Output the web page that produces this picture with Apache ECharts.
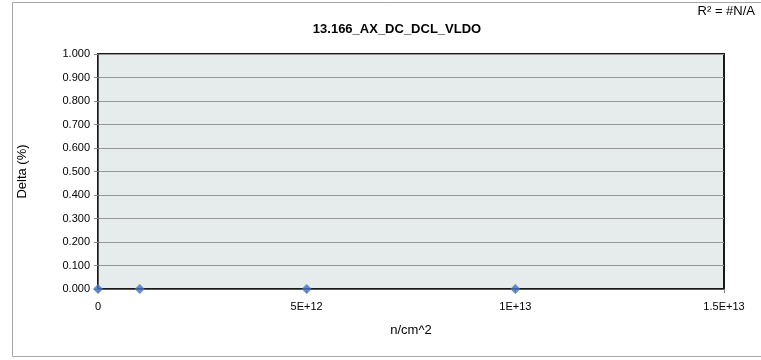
<!DOCTYPE html>
<html>
<head>
<meta charset="utf-8">
<script src="https://cdn.jsdelivr.net/npm/echarts@6/dist/echarts.min.js"></script>
<style>html,body{margin:0;padding:0;background:#fff}#c{width:761px;height:360px}</style>
</head>
<body>
<div id="c"></div>
<script>
const titleText = "13.166_AX_DC_DCL_VLDO";
const r2Text = "R\u00b2 = #N/A";
const xValues = [0, 1e12, 5e12, 1e13];
const yValues = [0, 0, 0, 0];
const xTickLabels = {0: "0", 5e12: "5E+12", 1e13: "1E+13", 1.5e13: "1.5E+13"};
const xName = "n/cm^2";
const yName = "Delta (%)";

const font = "'Liberation Sans', sans-serif";
const chart = echarts.init(document.getElementById('c'), null, {renderer: 'canvas'});
chart.setOption({
  animation: false,
  backgroundColor: '#ffffff',
  graphic: [
    {type: 'rect', shape: {x: 12.5, y: 2.5, width: 760, height: 354}, style: {fill: 'none', stroke: '#a6a6a6', lineWidth: 1}, silent: true},
    {type: 'text', right: 6, top: 5, style: {text: r2Text, font: "13px " + font, fill: '#000'}}
  ],
  title: {
    text: titleText, left: 392, top: 18, textAlign: 'center',
    textStyle: {fontFamily: font, fontSize: 13, fontWeight: 'bold', color: '#000'}
  },
  grid: {
    left: 98, right: 37, top: 54, bottom: 71, show: true,
    backgroundColor: '#e6ecec', borderColor: '#1a1a1a', borderWidth: 2
  },
  xAxis: {
    type: 'value', min: 0, max: 1.5e13, interval: 5e12,
    name: xName, nameLocation: 'middle', nameGap: 35,
    nameTextStyle: {fontFamily: font, fontSize: 13, color: '#000'},
    axisLine: {show: true, lineStyle: {color: '#595959', width: 1}},
    axisTick: {show: true, length: 4, lineStyle: {color: '#8c8c8c'}},
    splitLine: {show: false},
    axisLabel: {fontFamily: font, fontSize: 11, color: '#000', margin: 12,
      formatter: v => xTickLabels[v] !== undefined ? xTickLabels[v] : String(v)}
  },
  yAxis: {
    type: 'value', min: 0, max: 1, interval: 0.1,
    name: yName, nameLocation: 'middle', nameGap: 69,
    nameTextStyle: {fontFamily: font, fontSize: 13, color: '#000'},
    axisLine: {show: true, lineStyle: {color: '#595959', width: 1}},
    axisTick: {show: true, length: 4, lineStyle: {color: '#8c8c8c'}},
    splitLine: {show: true, lineStyle: {color: '#969696', width: 1}},
    axisLabel: {fontFamily: font, fontSize: 11, color: '#000', margin: 8,
      formatter: v => v.toFixed(3)}
  },
  series: [{
    type: 'scatter',
    data: xValues.map((x, i) => [x, yValues[i]]),
    symbol: 'diamond', symbolSize: 10,
    itemStyle: {color: '#4472c4'},
    clip: false
  }]
});
</script>
</body>
</html>
